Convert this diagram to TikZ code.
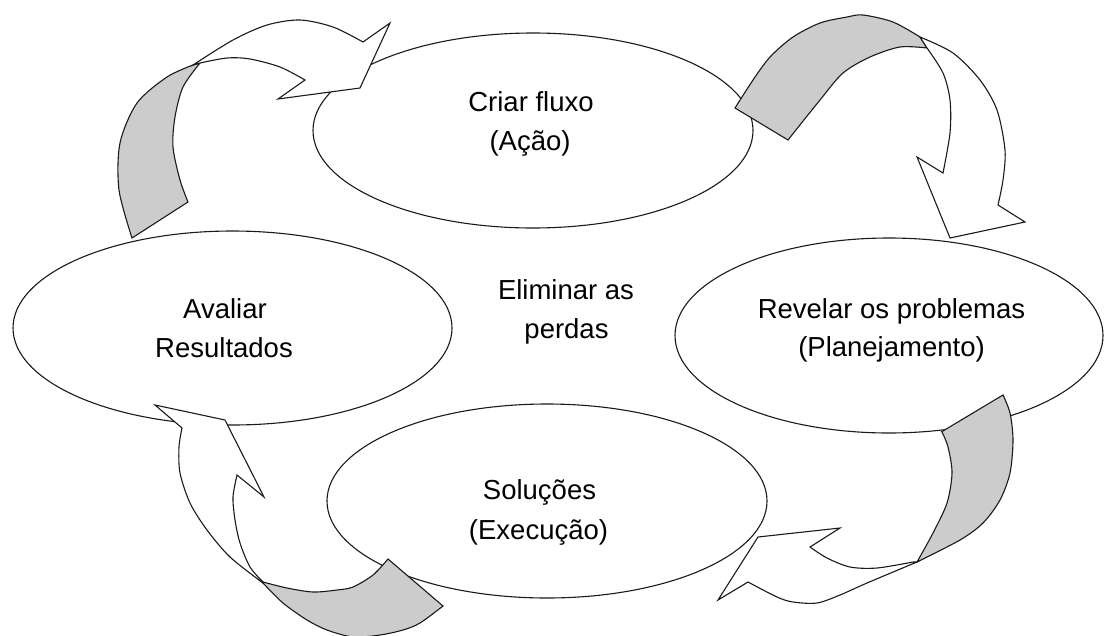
\documentclass[tikz,border=0pt]{standalone}
\usepackage{fontspec}
\setmainfont{Liberation Sans}
\usetikzlibrary{shapes.geometric}
\definecolor{bandgray}{HTML}{CCCCCC}
\definecolor{edge}{HTML}{1A1A1A}
\begin{document}
\begin{tikzpicture}[x=1pt,y=-1pt,
  oval/.style={ellipse,draw=edge,fill=white,line width=1.1pt,inner sep=0pt},
  lbl/.style={anchor=base,inner sep=0pt,font=\fontsize{27.5}{39}\selectfont},
  backband/.style={draw=edge,fill=bandgray,line width=1.1pt,line join=miter},
  frontband/.style={draw=edge,fill=white,line width=1.1pt,line join=miter}]
\useasboundingbox (0,0) rectangle (1105,635);

% ellipses
\node[oval,minimum width=440pt,minimum height=195pt] (etop) at (533,130.5) {};
\node[oval,minimum width=439pt,minimum height=194pt] (eleft) at (232.5,328) {};
\node[oval,minimum width=428pt,minimum height=195pt] (eright) at (889,335.5) {};
\node[oval,minimum width=440pt,minimum height=194pt] (ebot) at (547,501) {};

% labels
\node[lbl] (t1a) at (531,111.7) {Criar fluxo};
\node[lbl] (t1b) at (530,150) {(Ação)};
\node[lbl] (t2a) at (225,318) {Avaliar};
\node[lbl] (t2b) at (224,357.7) {Resultados};
\node[lbl] (t3a) at (891.5,318.3) {Revelar os problemas};
\node[lbl] (t3b) at (891.5,356.7) {(Planejamento)};
\node[lbl] (t4a) at (539.5,499) {Soluções};
\node[lbl] (t4b) at (538.5,539) {(Execução)};
\node[lbl] (t5a) at (566,299) {Eliminar as};
\node[lbl] (t5b) at (566.5,338) {perdas};

% arrow top-left (Avaliar -> Criar fluxo)
\filldraw[backband] plot[smooth] coordinates {(132,238) (119,190) (120,143) (137,103) (167,77) (193,65)}
  -- plot[smooth] coordinates {(200,63) (183,87) (175,117) (173,147) (180,180) (188,202)} -- cycle;
\filldraw[frontband] plot[smooth] coordinates {(193,65) (233,40) (267,25) (300,20) (333,27) (363,42)}
  -- (390,23) -- (360,88) -- (278,99)
  -- plot[smooth] coordinates {(305,80) (280,67) (250,59) (227,58) (200,63)} -- cycle;

% arrow top-right (Criar fluxo -> Revelar)
\filldraw[backband] plot[smooth] coordinates {(735,108) (753,80) (770,57) (793,37) (820,23) (847,17) (863,15) (893,22) (920,37)}
  -- plot[smooth] coordinates {(927,48) (900,47) (870,57) (843,73) (820,100) (788,140)} -- cycle;
\filldraw[frontband] plot[smooth] coordinates {(920,37) (953,53) (980,80) (997,110) (1005,150) (1003,180) (998,205)}
  -- (1025,222) -- (950,238) -- (917,157)
  -- plot[smooth] coordinates {(943,173) (950,133) (950,100) (943,73) (927,48)} -- cycle;

% arrow bottom-right (Revelar -> Soluções)
\filldraw[backband] (941.7,431.7) -- plot[smooth] coordinates {(1003,395) (1010,413) (1013,440) (1010,473) (1000,500) (983,523) (960,540) (917,562)}
  -- plot[smooth] coordinates {(917,562) (933,533) (947,503) (952,473) (948,447) (942,432)} -- cycle;
\filldraw[frontband] plot[smooth] coordinates {(917,562) (867,583) (840,595) (817,603) (793,602) (777,597) (748,582)}
  -- (718,600) -- (758,537) -- (840,528)
  -- plot[smooth] coordinates {(810,547) (827,558) (850,567) (877,568) (913,562)} -- cycle;

% arrow bottom-left (Soluções -> Avaliar)
\filldraw[backband] (388,559) -- plot[smooth] coordinates {(443,606) (420,623) (403,630) (380,635) (353,637) (327,630) (307,620) (283,603) (263,583)}
  -- plot[smooth] coordinates {(263,582) (287,588) (313,592) (337,590) (353,587) (373,575) (388,559)} -- cycle;
\filldraw[frontband] plot[smooth] coordinates {(263,583) (230,557) (207,530) (190,503) (180,473) (179,447) (182,428)}
  -- (155,405) -- (225,420) -- (264,497)
  -- plot[smooth] coordinates {(237,475) (233,497) (235,520) (240,543) (250,567) (263,582)} -- cycle;
\end{tikzpicture}
\end{document}
